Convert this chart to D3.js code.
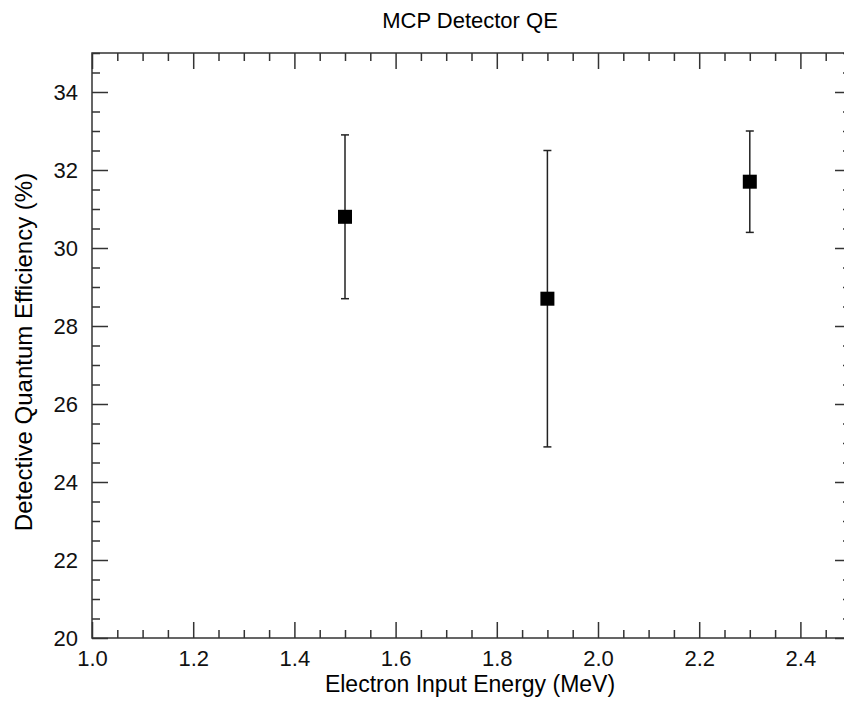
<!DOCTYPE html>
<html>
<head>
<meta charset="utf-8">
<script src="https://cdn.jsdelivr.net/npm/d3@7"></script>
<style>
  body { margin: 0; background: #fff; }
  svg { display: block; font-family: "Liberation Sans", Arial, Helvetica, sans-serif; }
  .axis path { display: none; }
  .axis line { stroke: #333; stroke-width: 1.5; }
  .axis text { font-size: 22px; fill: #111; }
</style>
</head>
<body>
<svg width="844" height="706"></svg>
<script>
const energy = [1.5, 1.9, 2.3];
const qe = [30.8, 28.7, 31.7];
const errLow = [28.7, 24.9, 30.4];
const errHigh = [32.9, 32.5, 33.0];

const xMajor = [1.0, 1.2, 1.4, 1.6, 1.8, 2.0, 2.2, 2.4];
const yMajor = [20, 22, 24, 26, 28, 30, 32, 34];

const margin = { top: 53, right: -7, bottom: 68, left: 92 };
const width = 844 - margin.left - margin.right;
const height = 706 - margin.top - margin.bottom;

const x = d3.scaleLinear().domain([1.0, 2.5]).range([0, width]);
const y = d3.scaleLinear().domain([20, 35]).range([height, 0]);

const xMinor = d3.range(1.0, 2.5001, 0.05).map(v => +v.toFixed(2)).filter(v => !xMajor.includes(v));
const yMinor = d3.range(20, 35.001, 0.5).filter(v => !yMajor.includes(v));

const svg = d3.select('svg');
const g = svg.append('g')
    .attr('transform', `translate(${margin.left},${margin.top})`);

// bottom
g.append('g').attr('class', 'axis')
    .attr('transform', `translate(0,${height})`)
    .call(d3.axisBottom(x).tickValues(xMajor).tickSize(-16).tickPadding(12).tickFormat(d3.format('.1f')));
g.append('g').attr('class', 'axis')
    .attr('transform', `translate(0,${height})`)
    .call(d3.axisBottom(x).tickValues(xMinor).tickSize(-8).tickFormat(''));
// top
g.append('g').attr('class', 'axis')
    .call(d3.axisTop(x).tickValues(xMajor).tickSize(-16).tickFormat(''));
g.append('g').attr('class', 'axis')
    .call(d3.axisTop(x).tickValues(xMinor).tickSize(-8).tickFormat(''));
// left
g.append('g').attr('class', 'axis')
    .call(d3.axisLeft(y).tickValues(yMajor).tickSize(-16).tickPadding(14).tickFormat(d3.format('d')));
g.append('g').attr('class', 'axis')
    .call(d3.axisLeft(y).tickValues(yMinor).tickSize(-8).tickFormat(''));
// right
g.append('g').attr('class', 'axis')
    .attr('transform', `translate(${width},0)`)
    .call(d3.axisRight(y).tickValues(yMajor).tickSize(-16).tickFormat(''));
g.append('g').attr('class', 'axis')
    .attr('transform', `translate(${width},0)`)
    .call(d3.axisRight(y).tickValues(yMinor).tickSize(-8).tickFormat(''));

g.append('rect')
    .attr('width', width)
    .attr('height', height)
    .attr('fill', 'none')
    .attr('stroke', '#333')
    .attr('stroke-width', 1.5);

// error bars
const pts = energy.map((e, i) => ({ e, v: qe[i], lo: errLow[i], hi: errHigh[i] }));
const bars = g.selectAll('.err').data(pts).enter().append('g').attr('class', 'err')
    .attr('stroke', '#222').attr('stroke-width', 1.5);
bars.append('line')
    .attr('x1', d => x(d.e)).attr('x2', d => x(d.e))
    .attr('y1', d => y(d.lo)).attr('y2', d => y(d.hi));
bars.append('line')
    .attr('x1', d => x(d.e) - 4).attr('x2', d => x(d.e) + 4)
    .attr('y1', d => y(d.lo)).attr('y2', d => y(d.lo));
bars.append('line')
    .attr('x1', d => x(d.e) - 4).attr('x2', d => x(d.e) + 4)
    .attr('y1', d => y(d.hi)).attr('y2', d => y(d.hi));

g.selectAll('.pt').data(pts).enter().append('rect')
    .attr('class', 'pt')
    .attr('x', d => x(d.e) - 7)
    .attr('y', d => y(d.v) - 7)
    .attr('width', 14)
    .attr('height', 14)
    .attr('fill', '#000');

svg.append('text')
    .attr('x', 470).attr('y', 28)
    .attr('text-anchor', 'middle')
    .style('font-size', '22px')
    .text('MCP Detector QE');

svg.append('text')
    .attr('x', 470).attr('y', 692)
    .attr('text-anchor', 'middle')
    .style('font-size', '23px')
    .text('Electron Input Energy (MeV)');

svg.append('text')
    .attr('transform', 'translate(32,352) rotate(-90)')
    .attr('text-anchor', 'middle')
    .style('font-size', '24px')
    .text('Detective Quantum Efficiency (%)');
</script>
</body>
</html>
